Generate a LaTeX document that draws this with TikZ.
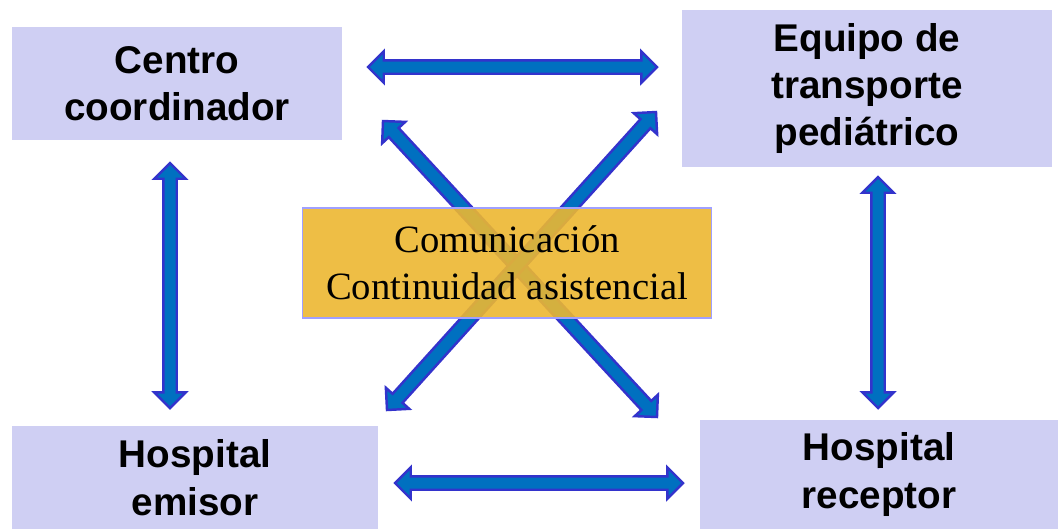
\documentclass[tikz,border=0pt]{standalone}
\usepackage{fontspec}
\setmainfont{Liberation Sans}
\newfontfamily\timesfont{Liberation Serif}
\usetikzlibrary{calc}
\usetikzlibrary{shapes.arrows}
\definecolor{boxfill}{RGB}{207,207,243}
\definecolor{corefill}{RGB}{236,183,49}
\definecolor{coreedge}{RGB}{160,160,255}
\definecolor{linkfill}{RGB}{0,112,192}
\definecolor{linkedge}{RGB}{51,51,204}

\tikzset{
  unit/.style={fill=boxfill, align=center, inner sep=0pt,
               font=\fontsize{22}{27}\selectfont\bfseries},
  core/.style={fill=corefill, fill opacity=0.9, text opacity=1,
               draw=coreedge, line width=0.6pt, align=center,
               font=\timesfont\fontsize{22}{27}\selectfont},
  link/.style={double arrow, draw=linkedge, fill=linkfill, line width=1.4pt,
               inner xsep=0pt, inner ysep=0.11cm,
               double arrow head extend=0.18cm, double arrow tip angle=90}
}

\newcommand{\bothway}[2]{%
  \path let \p1=($(#2)-(#1)$), \n1={veclen(\x1,\y1)}, \n2={atan2(\y1,\x1)} in
    node[link, minimum height=\n1, rotate=\n2] at ($(#1)!0.5!(#2)$) {};}

\begin{document}
\begin{tikzpicture}[x=0.02cm,y=-0.02cm]
\useasboundingbox (0,0) rectangle (1058,529);

% ends of the arrows
\coordinate (topL) at (368,67);
\coordinate (topR) at (657,67);
\coordinate (botL) at (395,483);
\coordinate (botR) at (683,483);
\coordinate (leftT) at (170,163);
\coordinate (leftB) at (170,408);
\coordinate (rightT) at (878,177);
\coordinate (rightB) at (878,408);
\coordinate (diaTL) at (383,121);
\coordinate (diaBR) at (657,417);
\coordinate (diaBL) at (387,410);
\coordinate (diaTR) at (656,112);

\bothway{topL}{topR}
\bothway{botL}{botR}
\bothway{leftT}{leftB}
\bothway{rightT}{rightB}
\bothway{diaTL}{diaBR}
\bothway{diaBL}{diaTR}

\node[unit, minimum width=6.6cm, minimum height=2.26cm] (centro) at (177,83.5)
     {Centro\\coordinador};
\node[unit, minimum width=7.4cm, minimum height=3.14cm] (equipo) at (867,88.5)
     {Equipo de\\transporte\\pediátrico};
\node[unit, minimum width=7.32cm, minimum height=2.06cm] (emisor) at (195,477.5)
     {Hospital\\emisor};
\node[unit, minimum width=7.16cm, minimum height=2.18cm] (receptor) at (879,474.5)
     {Hospital\\receptor};

\node[core, minimum width=8.2cm, minimum height=2.2cm] (nucleo) at (507,263)
     {Comunicación\\Continuidad asistencial};
\end{tikzpicture}
\end{document}
